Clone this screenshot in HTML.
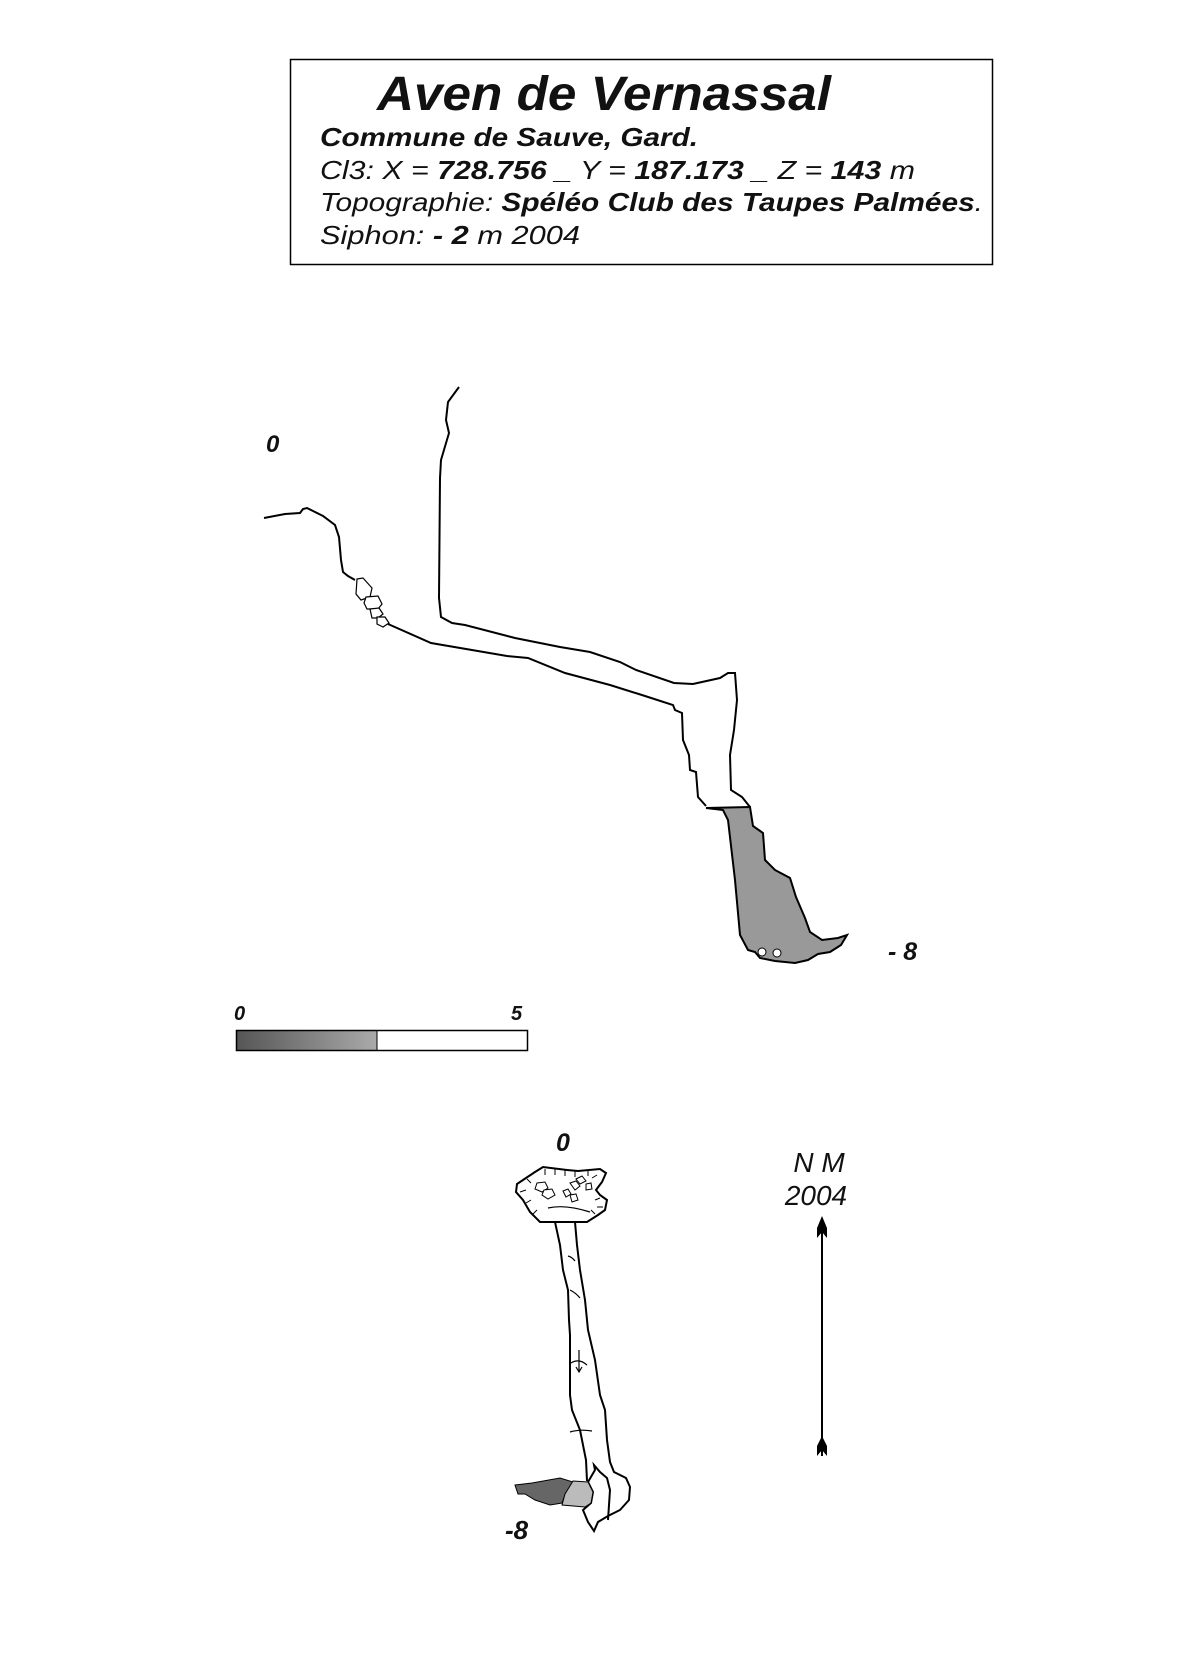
<!DOCTYPE html>
<html><head><meta charset="utf-8"><style>html,body{margin:0;padding:0;background:#fff}svg{display:block}</style></head>
<body>
<svg width="1193" height="1654" viewBox="0 0 1193 1654" xmlns="http://www.w3.org/2000/svg" font-family="Liberation Sans, sans-serif">
<rect x="0" y="0" width="1193" height="1654" fill="#fff"/>
<rect x="290.5" y="59.5" width="702" height="205" fill="none" stroke="#000" stroke-width="1.5"/>
<g fill="#111" font-style="italic">
<text x="377" y="110" font-size="48" font-weight="bold" textLength="454" lengthAdjust="spacingAndGlyphs">Aven de Vernassal</text>
<text x="320" y="146" font-size="26" font-weight="bold" textLength="378" lengthAdjust="spacingAndGlyphs">Commune de Sauve, Gard.</text>
<text x="320" y="179" font-size="26" textLength="595" lengthAdjust="spacingAndGlyphs">Cl3: X = <tspan font-weight="bold">728.756</tspan> _  Y  = <tspan font-weight="bold">187.173</tspan> _ Z = <tspan font-weight="bold">143</tspan> m</text>
<text x="320" y="211" font-size="26" textLength="663" lengthAdjust="spacingAndGlyphs">Topographie: <tspan font-weight="bold">Spéléo Club des Taupes Palmées</tspan>.</text>
<text x="320" y="244" font-size="26" textLength="260" lengthAdjust="spacingAndGlyphs">Siphon: <tspan font-weight="bold">- 2</tspan> m  2004</text>
<text x="266" y="452" font-size="24" font-weight="bold">0</text>
<text x="888" y="960" font-size="25" font-weight="bold">- 8</text>
<text x="234" y="1020" font-size="20" font-weight="bold">0</text>
<text x="511" y="1020" font-size="20" font-weight="bold">5</text>
<text x="556" y="1151" font-size="25" font-weight="bold">0</text>
<text x="505" y="1539" font-size="26" font-weight="bold">-8</text>
<text x="819" y="1172" font-size="28" text-anchor="middle">N M</text>
<text x="816" y="1205" font-size="28" text-anchor="middle">2004</text>
</g>
<polygon points="706,808 750,807 753,826 763,833 765,860 775,870 790,878 796,897 805,918 810,932 822,940 838,938 847,935 841,945 830,952 818,954 808,960 795,963 775,961 760,958 755,952 748,950 740,935 735,880 728,820 723,810" fill="#999" stroke="#000" stroke-width="2"/>
<circle cx="762" cy="952" r="4" fill="#fff" stroke="#000" stroke-width="1"/>
<circle cx="777" cy="953" r="4" fill="#fff" stroke="#000" stroke-width="1"/>
<polyline points="459,387 448,402 446,420 449,433 441,460 440,478 439,598 441,617 452,623 465,625 515,638 560,647 590,652 620,662 636,670 674,683 693,684 720,678 728,673 735,673 737,700 734,730 730,755 731,790 742,797 750,807" fill="none" stroke="#000" stroke-width="2"/>
<polyline points="264,518 285,514 300,513 303,509 307,508 323,516 335,525 339,537 341,560 343,572 348,576 355,580" fill="none" stroke="#000" stroke-width="2"/>
<polyline points="388,624 431,643 507,656 528,658 565,673 610,685 645,696 673,705 675,710 682,713 683,740 689,755 690,770 696,772 698,797 706,806" fill="none" stroke="#000" stroke-width="2"/>
<g fill="#fff" stroke="#000" stroke-width="1.2">
<polygon points="357,579 363,578 372,588 370,597 361,600 356,594"/>
<polygon points="366,597 378,596 382,604 378,609 367,609 364,603"/>
<polygon points="370,609 379,608 383,614 378,618 372,618"/>
<polygon points="377,617 385,617 389,623 383,627 377,624"/>
</g>
<defs><linearGradient id="g" x1="0" x2="1"><stop offset="0" stop-color="#555"/><stop offset="1" stop-color="#aaa"/></linearGradient></defs>
<rect x="236" y="1030" width="141" height="21" fill="url(#g)"/>
<rect x="236.5" y="1030.5" width="291" height="20" fill="none" stroke="#000" stroke-width="1.5"/>
<line x1="377" y1="1030" x2="377" y2="1051" stroke="#000" stroke-width="1"/>
<polygon points="517,1184 535,1172 543,1167 567,1170 578,1171 600,1169 606,1173 602,1182 596,1190 600,1195 607,1200 605,1210 598,1215 587,1222 575,1222 555,1222 540,1222 530,1212 523,1200 516,1192" fill="#fff" stroke="#000" stroke-width="2"/>
<g stroke="#000" stroke-width="1">
<line x1="545" y1="1169" x2="545" y2="1175"/><line x1="555" y1="1169" x2="555" y2="1175"/><line x1="565" y1="1170" x2="565" y2="1176"/><line x1="575" y1="1171" x2="575" y2="1177"/><line x1="588" y1="1170" x2="588" y2="1176"/><line x1="597" y1="1175" x2="592" y2="1178"/><line x1="600" y1="1198" x2="595" y2="1200"/><line x1="603" y1="1207" x2="597" y2="1207"/><line x1="595" y1="1214" x2="591" y2="1210"/><line x1="520" y1="1192" x2="526" y2="1190"/><line x1="526" y1="1203" x2="531" y2="1200"/><line x1="533" y1="1214" x2="537" y2="1210"/><line x1="527" y1="1179" x2="531" y2="1183"/>
</g>
<path d="M548 1208 Q565 1204 590 1212" fill="none" stroke="#000" stroke-width="1.2"/>
<g fill="#fff" stroke="#000" stroke-width="1">
<polygon points="537,1183 545,1182 548,1188 542,1192 535,1189"/><polygon points="544,1190 552,1189 555,1195 548,1199 542,1195"/>
<polygon points="563,1191 568,1189 571,1194 566,1197"/><polygon points="570,1183 576,1181 580,1186 575,1190"/><polygon points="576,1179 582,1176 586,1181 580,1184"/><polygon points="586,1184 591,1183 592,1189 586,1190"/><polygon points="570,1195 576,1194 578,1200 572,1202"/>
</g>
<polyline points="555,1222 560,1245 563,1270 568,1290 569,1320 570,1335 570,1395 572,1410 580,1430 586,1460 587,1481" fill="none" stroke="#000" stroke-width="2"/>
<polyline points="575,1222 577,1245 580,1270 585,1300 588,1330 595,1360 600,1395 605,1410 607,1440 610,1462 614,1472 626,1478 630,1487 629,1500 620,1510 608,1516 598,1522 594,1531 588,1522 583,1510 591,1503 593,1492 588,1482 595,1470 594,1465 600,1472 607,1478 610,1490 608,1520" fill="none" stroke="#000" stroke-width="2"/>
<path d="M570 1432 Q580 1429 592 1431 M570 1290 Q576 1293 580 1298 M568 1256 Q572 1257 575 1261 M571 1363 Q579 1358 587 1365 M579 1350 L579 1372 M576 1367 L579 1372 L582 1367" fill="none" stroke="#000" stroke-width="1.2"/>
<polygon points="515,1485 532,1483 560,1478 573,1482 565,1495 562,1503 550,1505 535,1500 525,1494 518,1494" fill="#666" stroke="#000" stroke-width="1"/>
<polygon points="573,1481 588,1482 593,1492 591,1503 585,1507 562,1505 565,1494" fill="#bbb" stroke="#000" stroke-width="1"/>
<line x1="822" y1="1218" x2="822" y2="1456" stroke="#000" stroke-width="2"/>
<polygon points="822,1216 827,1228 827,1238 822,1232 817,1238 817,1228" fill="#000"/>
<polygon points="822,1436 827,1446 827,1456 822,1450 817,1456 817,1446" fill="#000"/>
</svg>
</body></html>
